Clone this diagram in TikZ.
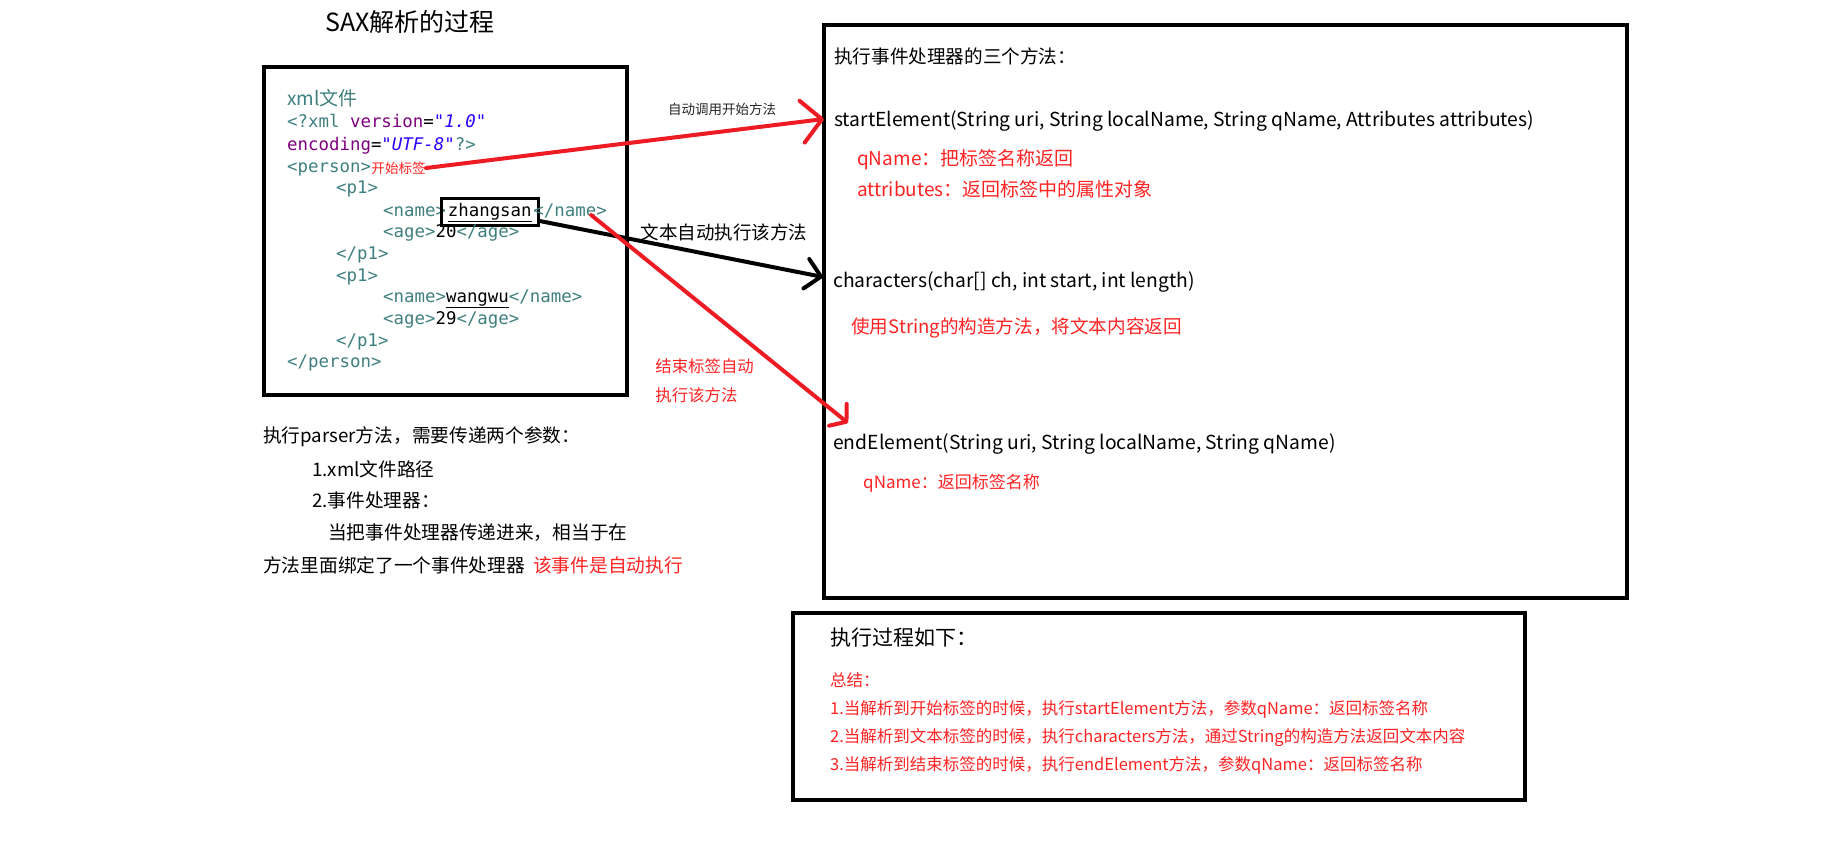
\documentclass[tikz,border=0pt]{standalone}
\usepackage{fontspec}
\setmainfont{Noto Sans CJK SC}
\newfontfamily\codefont{DejaVu Sans Mono}
\usepackage{tikz}
\usetikzlibrary{arrows.meta,positioning}
\definecolor{xmlteal}{RGB}{63,127,127}
\definecolor{xmlpurple}{RGB}{127,0,127}
\definecolor{xmlblue}{RGB}{42,0,255}
\definecolor{notered}{RGB}{255,35,35}
\definecolor{paintred}{RGB}{237,28,36}

\begin{document}
\begin{tikzpicture}[x=1pt,y=-1pt,
  fs/.style={font=\fontsize{#1}{#1}\selectfont,text height=0.88*#1pt,text depth=0.12*#1pt},
  txt/.style={fs=#1,inner sep=0pt,anchor=west},
  note/.style={txt=#1,text=notered},
  code/.style={font=\codefont\fontsize{17.4}{17.4}\selectfont,text height=12pt,text depth=3.5pt,inner sep=0pt,anchor=west,text=xmlteal},
  panel/.style={draw,line width=3.5pt,anchor=north west,inner sep=0pt},
  link/.style={line width=4pt,line cap=round,line join=round}]
  \path[use as bounding box,fill=white] (0,0) rectangle (1830,847);
  \node[fs=25,inner sep=0pt] (title) at (410,22) {SAX解析的过程};

  \node[panel,minimum width=363pt,minimum height=328pt] (xmlbox) at (262,65) {};
  \node[txt=19,text=xmlteal] (xmlfile) at (287,98) {xml文件};
  \node[code] (l1) at (287,123) {<?xml {\color{xmlpurple}version}{\color{black}=}{\color{xmlblue}\itshape"1.0"}};
  \node[code] (l2) at (287,146) {{\color{xmlpurple}encoding}{\color{black}=}{\color{xmlblue}\itshape"UTF-8"}?>};
  \node[code] (l3) at (287,168) {<person>};
  \node[note=13.6,right=0pt of l3] (tagstart) {开始标签};
  \node[code] (l4) at (336,189) {<p1>};
  \node[code] (l5) at (383,212) {<name>};
  \node[code,draw=black,line width=3.2pt,inner xsep=6.5pt,inner ysep=6pt,right=-6.5pt of l5,text=black] (zs) {\underline{zhangsan}};
  \node[code,right=-6.5pt of zs] (l5b) {</name>};
  \node[code] (l6) at (383,233) {<age>{\color{black}20}</age>};
  \node[code] (l7) at (336,255) {</p1>};
  \node[code] (l8) at (336,277) {<p1>};
  \node[code] (l9) at (383,298) {<name>{\color{black}\underline{wangwu}}</name>};
  \node[code] (l10) at (383,320) {<age>{\color{black}29}</age>};
  \node[code] (l11) at (336,342) {</p1>};
  \node[code] (l12) at (287,363) {</person>};

  \node[txt=18.7] (parser) at (263,435) {执行parser方法，需要传递两个参数：};
  \node[txt=18.7] (arg1) at (312,469) {1.xml文件路径};
  \node[txt=18.7] (arg2) at (312,500) {2.事件处理器：};
  \node[txt=18.7] (bind1) at (328,532) {当把事件处理器传递进来，相当于在};
  \node[txt=18.7] (bind2) at (263,565) {方法里面绑定了一个事件处理器};
  \node[note=18.7] (auto) at (533,565) {该事件是自动执行};

  \node[panel,minimum width=803pt,minimum height=573pt] (methbox) at (822,23) {};
  \node[txt=18.6] (three) at (834,56) {执行事件处理器的三个方法：};
  \node[txt=19.3] (mstart) at (834,119) {startElement(String uri, String localName, String qName, Attributes attributes)};
  \node[note=19] (qn1) at (857,158) {qName：把标签名称返回};
  \node[note=19] (attr) at (857,189) {attributes：返回标签中的属性对象};
  \node[txt=19.3] (mchar) at (833,280) {characters(char[] ch, int start, int length)};
  \node[note=18.6] (strnote) at (851,326) {使用String的构造方法，将文本内容返回};
  \node[txt=19.3] (mend) at (833,442) {endElement(String uri, String localName, String qName)};
  \node[note=17] (qn2) at (863,482) {qName：返回标签名称};

  \node[panel,minimum width=732pt,minimum height=187pt] (sumbox) at (791,611) {};
  \node[txt=21] (howto) at (830,638) {执行过程如下：};
  \node[note=16.5] (sum0) at (830,680) {总结：};
  \node[note=16.5] (sum1) at (830,708) {1.当解析到开始标签的时候，执行startElement方法，参数qName：返回标签名称};
  \node[note=16.5] (sum2) at (830,736) {2.当解析到文本标签的时候，执行characters方法，通过String的构造方法返回文本内容};
  \node[note=16.5] (sum3) at (830,764) {3.当解析到结束标签的时候，执行endElement方法，参数qName：返回标签名称};

  \draw[link,paintred,-{Straight Barb[round,length=20pt,width=42pt]}] (tagstart.east) -- ([xshift=-10pt]mstart.west)
    node[fs=13.5,inner sep=0pt,text=black!85,pos=.744,yshift=22pt] {自动调用开始方法};
  \draw[link,-{Straight Barb[round,length=15pt,width=30pt]}] ([yshift=-9pt]zs.east) -- ([xshift=-10pt,yshift=3pt]mchar.west)
    node[fs=18.5,inner sep=0pt,pos=.65,yshift=25pt] {文本自动执行该方法};
  \draw[link,paintred,-{Straight Barb[round,length=11pt,width=28pt]}] ([xshift=21pt,yshift=-3pt]l5b.center) -- ([xshift=15pt,yshift=19pt]mend.west)
    node[font=\fontsize{16.4}{29}\selectfont,inner sep=0pt,text=notered,align=left,pos=.796,xshift=-91pt] {结束标签自动\\执行该方法};
\end{tikzpicture}
\end{document}
